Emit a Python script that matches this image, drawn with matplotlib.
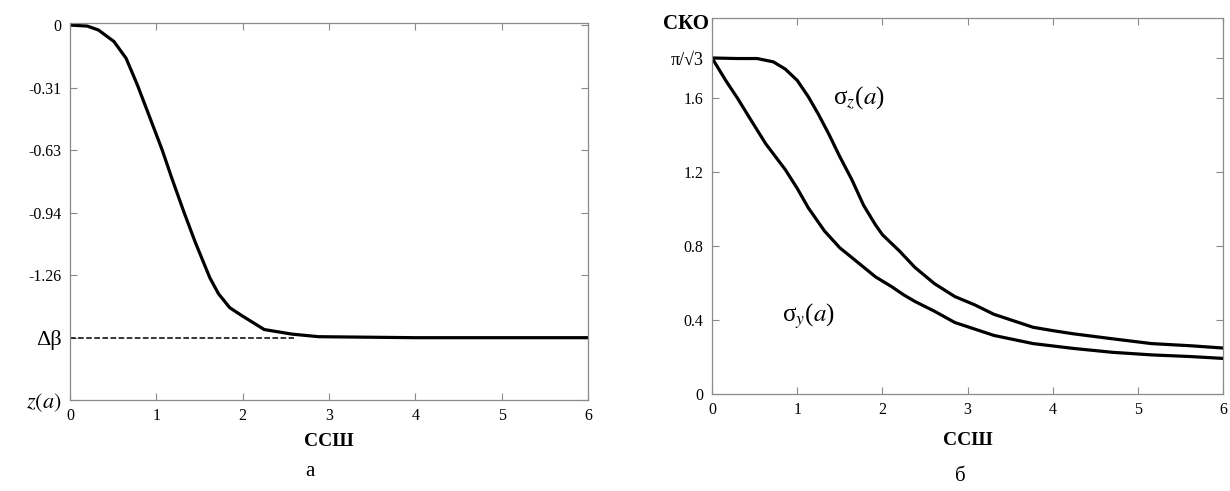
import numpy as np
import matplotlib
matplotlib.use('Agg')
import matplotlib.pyplot as plt

plt.rcParams['font.family'] = ['Liberation Serif', 'DejaVu Serif']
plt.rcParams['mathtext.fontset'] = 'stix'

# (а) z(a) в зависимости от ССШ
snr_z = [0, 0.20, 0.33, 0.51, 0.65, 0.78, 0.89, 1.00, 1.07, 1.18, 1.32, 1.45, 1.62, 1.72,
         1.85, 1.99, 2.25, 2.57, 2.88, 4.0, 5.0, 6.0]
z_vals = [0, -0.005, -0.025, -0.083, -0.167, -0.30, -0.425, -0.55, -0.63, -0.77, -0.94,
          -1.09, -1.27, -1.35, -1.42, -1.46, -1.53, -1.553, -1.566, -1.571, -1.571, -1.571]
delta_beta = -np.pi / 2
z_ticks = [0, -0.314, -0.628, -0.942, -1.257, -np.pi / 2, -0.6 * np.pi]
z_ticklabels = ['0', '-0.31', '-0.63', '-0.94', '-1.26', 'Δβ', r'$z(a)$']

# (б) СКО в зависимости от ССШ
snr_sz = [0, 0.30, 0.53, 0.72, 0.86, 1.00, 1.13, 1.25, 1.37, 1.50, 1.64, 1.78, 1.92, 2.00,
          2.20, 2.38, 2.61, 2.85, 3.08, 3.31, 3.54, 3.77, 4.00, 4.24, 4.70, 5.16, 5.63, 6.0]
sigma_z = [1.814, 1.811, 1.811, 1.793, 1.754, 1.693, 1.605, 1.509, 1.404, 1.281, 1.158,
           1.018, 0.912, 0.860, 0.772, 0.684, 0.596, 0.526, 0.482, 0.430, 0.395, 0.360,
           0.342, 0.325, 0.298, 0.272, 0.260, 0.248]
snr_sy = [0, 0.16, 0.30, 0.44, 0.63, 0.86, 1.00, 1.13, 1.32, 1.50, 1.64, 1.92, 2.11, 2.25,
          2.38, 2.61, 2.85, 3.08, 3.31, 3.77, 4.24, 4.70, 5.16, 5.62, 6.0]
sigma_y = [1.814, 1.693, 1.596, 1.491, 1.351, 1.211, 1.11, 1.005, 0.88, 0.789, 0.737,
           0.632, 0.579, 0.535, 0.500, 0.447, 0.386, 0.351, 0.316, 0.272, 0.246, 0.225,
           0.211, 0.202, 0.192]
s_ticks = [0, 0.4, 0.8, 1.2, 1.6, np.pi / np.sqrt(3)]
s_ticklabels = ['0', '0.4', '0.8', '1.2', '1.6', 'π/√3']

x_ticks = [0, 1, 2, 3, 4, 5, 6]

fig = plt.figure(figsize=(12.3, 4.91), dpi=100)
ax1 = fig.add_axes([0.0569, 0.185, 0.4211, 0.768])
ax2 = fig.add_axes([0.5789, 0.1976, 0.4155, 0.7658])


def style_axes(ax):
    for sp in ax.spines.values():
        sp.set_color('#8a8a8a')
        sp.set_linewidth(0.9)
    ax.tick_params(direction='in', length=5, width=0.8, color='#8a8a8a',
                   top=True, right=True, labelsize=11.5, pad=6)
    ax.set_xticks(x_ticks)
    ax.set_xlim(0, 6)


# Левая панель
style_axes(ax1)
ax1.plot([0, 2.6], [delta_beta, delta_beta], 'k--', lw=1.1)
ax1.plot(snr_z, z_vals, color='black', lw=2.3, solid_joinstyle='round')
ax1.set_ylim(-0.6 * np.pi, 0.01)
ax1.set_yticks(z_ticks)
ax1.set_yticklabels(z_ticklabels)
for lbl in ax1.get_yticklabels()[-2:]:
    lbl.set_fontsize(16)
ax1.set_xlabel('ССШ', fontsize=14, fontweight='bold', labelpad=6)
fig.text(0.252, 0.03, 'а', fontsize=15, ha='center')

# Правая панель
style_axes(ax2)
ax2.plot(snr_sz, sigma_z, color='black', lw=2.3, solid_joinstyle='round')
ax2.plot(snr_sy, sigma_y, color='black', lw=2.3, solid_joinstyle='round')
ax2.set_ylim(0, 2.03)
ax2.set_yticks(s_ticks)
ax2.set_yticklabels(s_ticklabels)
ax2.get_yticklabels()[-1].set_fontsize(13)
ax2.text(1.42, 1.6, 'σ$_z$($a$)', fontsize=18, va='center')
ax2.text(0.82, 0.42, 'σ$_y$($a$)', fontsize=18, va='center')
ax2.text(-0.3, 2.0, 'СКО', fontsize=15, fontweight='bold', ha='center', va='center',
         clip_on=False)
ax2.set_xlabel('ССШ', fontsize=14, fontweight='bold', labelpad=10)
fig.text(0.781, 0.02, 'б', fontsize=15, ha='center')

fig.savefig('out.png', dpi=100)
